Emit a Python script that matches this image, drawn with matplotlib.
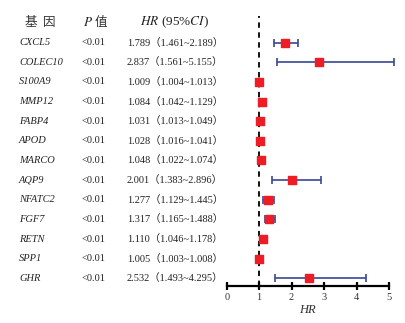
import numpy as np
import matplotlib.pyplot as plt
from matplotlib import transforms

genes = ["CXCL5", "COLEC10", "S100A9", "MMP12", "FABP4", "APOD", "MARCO",
         "AQP9", "NFATC2", "FGF7", "RETN", "SPP1", "GHR"]
pvals = ["<0.01"] * 13
hr = [1.789, 2.837, 1.009, 1.084, 1.031, 1.028, 1.048,
      2.001, 1.277, 1.317, 1.110, 1.005, 2.532]
lo = [1.461, 1.561, 1.004, 1.042, 1.013, 1.016, 1.022,
      1.383, 1.129, 1.165, 1.046, 1.003, 1.493]
hi = [2.189, 5.155, 1.013, 1.129, 1.049, 1.041, 1.074,
      2.896, 1.445, 1.488, 1.178, 1.008, 4.295]
xticks = [0, 1, 2, 3, 4, 5]

W, H = 406, 323
fig = plt.figure(figsize=(W / 100, H / 100), dpi=100)

serif = ["Liberation Serif", "Noto Sans CJK SC", "DejaVu Serif"]
plt.rcParams['font.family'] = serif
plt.rcParams['mathtext.fontset'] = 'stix'

# axes placed in pixels
x0, x5 = 226.7, 389.0
row0, rowN = 42.7, 278.3
step = (rowN - row0) / 12
ax_top, ax_bot = 16.0, 285.7
ax = fig.add_axes([x0 / W, 1 - ax_bot / H, (x5 - x0) / W, (ax_bot - ax_top) / H])

n = len(genes)
y = np.arange(n)
ax.set_xlim(0, 5)
ax.set_ylim(12 + (ax_bot - rowN) / step, -(row0 - ax_top) / step)

err = [np.array(hr) - np.array(lo), np.array(hi) - np.array(hr)]
ax.errorbar(hr, y, xerr=err, fmt='none', ecolor='#3a4797', elinewidth=1.2,
            capsize=3, capthick=1.2, clip_on=False, zorder=2)
ax.scatter(hr, y, marker='s', s=28, color='#ee1c25', zorder=3, clip_on=False)
ax.axvline(1, color='black', ls=(0, (3, 2.5)), lw=1.3, zorder=1)

for s in ['top', 'right', 'left']:
    ax.spines[s].set_visible(False)
ax.spines['bottom'].set_linewidth(1.6)
ax.set_yticks([])
ax.set_xticks(xticks)
ax.tick_params(axis='x', direction='inout', length=6, width=1.6, labelsize=7.5,
               pad=2, labelcolor='#333333')
ax.set_xlabel("HR", fontstyle='italic', fontsize=9, labelpad=2, color='#333333')

# table text
trans = transforms.blended_transform_factory(fig.transFigure, ax.transData)
for i in range(n):
    ax.text(19 / W, i, genes[i], transform=trans, fontstyle='italic',
            fontsize=7.5, va='center', ha='left', color='#222222')
    ax.text(82 / W, i, pvals[i], transform=trans, fontsize=7.5,
            va='center', ha='left', color='#222222')
    ax.text(127 / W, i, "%.3f（%.3f~%.3f）" % (hr[i], lo[i], hi[i]),
            transform=trans, fontsize=7.5, va='center', ha='left', color='#222222')

hy = 1 - 22.7 / H
fig.text(25 / W, hy, "基  因", fontsize=9, va='center', ha='left',
         family=["Noto Sans CJK SC"], color='#333333')
fig.text(83 / W, hy, "$P$", fontsize=9.5, va='center', ha='left', color='#222222')
fig.text(95 / W, hy, "值", fontsize=9, va='center', ha='left',
         family=["Noto Sans CJK SC"], color='#333333')
fig.text(140 / W, hy, "$HR$ (95%$CI$)", fontsize=9.5, va='center', ha='left',
         color='#222222')

fig.savefig("out.png", dpi=100)
